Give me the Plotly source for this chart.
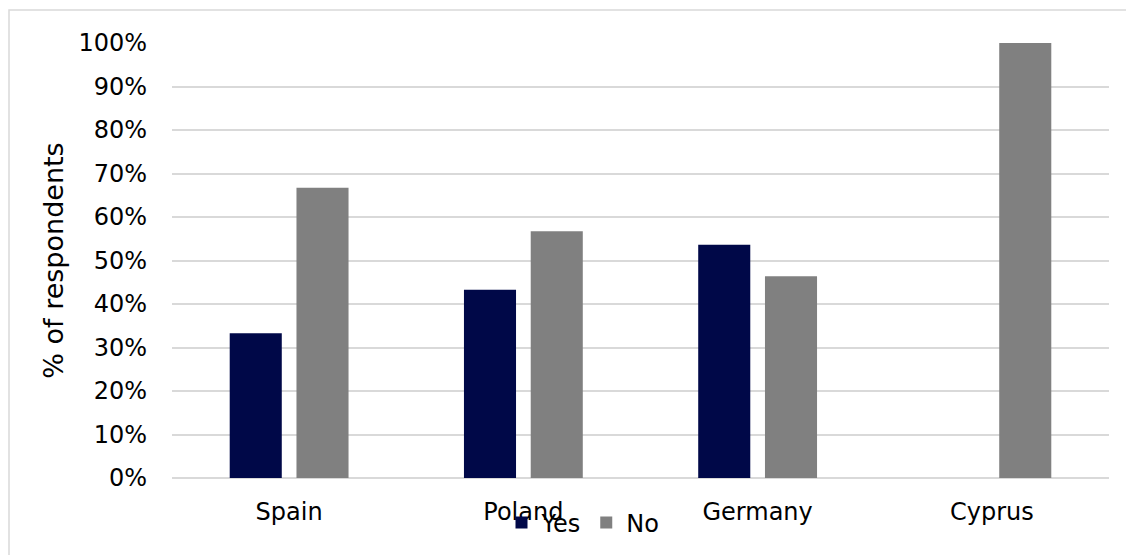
import plotly.graph_objects as go

categories = ["Spain", "Poland", "Germany", "Cyprus"]
yes_values = [0.333, 0.433, 0.536, 0.0]
no_values = [0.667, 0.567, 0.464, 1.0]
tick_vals = [0, 0.1, 0.2, 0.3, 0.4, 0.5, 0.6, 0.7, 0.8, 0.9, 1.0]
tick_text = ["0%", "10%", "20%", "30%", "40%", "50%", "60%", "70%", "80%", "90%", "100%"]

FONT = "Verdana, DejaVu Sans, sans-serif"

fig = go.Figure()
fig.add_trace(go.Bar(name="Yes", x=categories, y=yes_values,
                     marker=dict(color="#000848", line=dict(width=0))))
fig.add_trace(go.Bar(name="No", x=categories, y=no_values,
                     marker=dict(color="#808080", line=dict(width=0))))

OFF = 8  # page body margin
W, H = 1134, 555
L, R, T, B = 172 - OFF, 33, 43 - OFF, 85
pw, ph = W - L - R, H - T - B

def px_x(x):
    return (x - OFF - L) / pw

def px_y(y):
    return (T + ph - (y - OFF)) / ph

fig.update_layout(
    width=W, height=H,
    margin=dict(l=L, r=R, t=T, b=B),
    paper_bgcolor="white", plot_bgcolor="white",
    barmode="group", bargap=0.43, bargroupgap=0.22,
    font=dict(family=FONT, size=24, color="#000000"),
    showlegend=True,
    legend=dict(orientation="h", x=px_x(583), xanchor="center",
                y=px_y(523), yanchor="middle",
                bgcolor="rgba(0,0,0,0)", font=dict(size=24),
                itemwidth=30, tracegroupgap=0),
    xaxis=dict(showgrid=False, showline=False, ticks="", tickfont=dict(size=24),
               ticklabelstandoff=17),
    yaxis=dict(range=[0, 1.0], tickvals=tick_vals, ticktext=tick_text,
               showgrid=True, gridcolor="#d9d9d9", gridwidth=1.5,
               zeroline=True, zerolinecolor="#d9d9d9", zerolinewidth=1.5,
               showline=False, ticks="", ticklabelstandoff=24,
               tickfont=dict(size=24),
               title=dict(text="% of respondents", font=dict(size=27), standoff=6)),
    shapes=[dict(type="rect", xref="paper", yref="paper",
                 x0=px_x(9), x1=px_x(1150),
                 y0=px_y(570), y1=px_y(10),
                 line=dict(color="#d9d9d9", width=1.5), fillcolor="rgba(0,0,0,0)",
                 layer="below")],
)

fig.write_html("out.html")
